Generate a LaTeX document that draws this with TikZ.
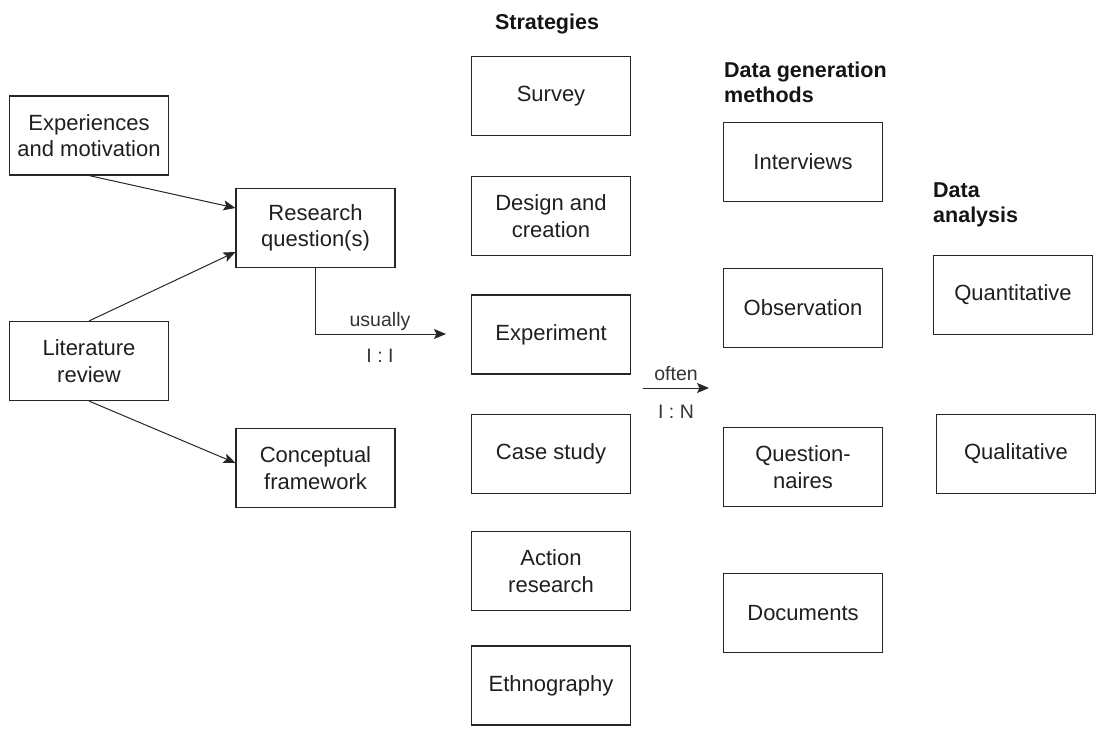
\documentclass[tikz,border=0pt]{standalone}
\usepackage{fontspec}
\setmainfont{Liberation Sans}
\usetikzlibrary{arrows.meta}
\begin{document}
\begin{tikzpicture}[x=1pt,y=-1pt,
  box/.style={draw=black!85, line width=1.1pt, minimum width=159pt, minimum height=79pt,
    inner sep=0pt, align=center, text=black!88, font=\fontsize{22}{26.5}\selectfont},
  title/.style={font=\fontsize{21.5}{25}\selectfont\bfseries, text=black!92, inner sep=0pt, align=left},
  lbl/.style={font=\fontsize{19.5}{22}\selectfont, text=black!80, inner sep=0pt},
  conn/.style={draw=black!85, line width=1pt, -{Stealth[length=12pt,width=10pt,inset=2.5pt]}}]
\useasboundingbox (0,0) rectangle (1097,731);

% left-hand inputs
\node[box] (exp) at (89,135.5) {Experiences\\and motivation};
\node[box] (rq)  at (315.5,228) {Research\\question(s)};
\node[box] (lit) at (89,361) {Literature\\review};
\node[box] (cf)  at (315.5,468) {Conceptual\\framework};

% strategies column
\node[title, anchor=center] (tstr) at (547,24) {Strategies};
\node[box] (survey) at (551,96)    {Survey};
\node[box] (design) at (551,216)   {Design and\\creation};
\node[box] (expm)   at (551,334.5) {Experiment};
\node[box] (case)   at (551,454)   {Case study};
\node[box] (action) at (551,571)   {Action\\research};
\node[box] (ethno)  at (551,685.5) {Ethnography};

% data generation methods column
\node[title, anchor=west] (tdg) at (724,82.5) {Data generation\\methods};
\node[box] (intv) at (803,162) {Interviews};
\node[box] (obs)  at (803,308) {Observation};
\node[box] (quest) at (803,467) {Question-\\naires};
\node[box] (docs) at (803,613) {Documents};

% data analysis column
\node[title, anchor=west] (tda) at (933,204.5) {Data\\analysis};
\node[box] (quant) at (1013,295) {Quantitative};
\node[box] (qual)  at (1016,454) {Qualitative};

% connectors (yshift is in page direction: positive moves up)
\draw[conn] (exp.south) -- ([yshift=20pt]rq.west);
\draw[conn] (lit.north) -- ([yshift=-24pt]rq.west);
\draw[conn] (lit.south) -- ([yshift=5pt]cf.west);

\coordinate (rqbend) at (315.5,334);
\coordinate (rqend) at (446,334);
\draw[conn] (rq.south) -- (rqbend) -- (rqend);
\node[lbl] (usually) at (380,321) {usually};
\node[lbl] (oneone) at (380,356) {I : I};

\coordinate (ofstart) at (643,388);
\coordinate (ofend) at (709,388);
\draw[conn] (ofstart) -- (ofend);
\node[lbl] (often) at (676,374) {often};
\node[lbl] (onen) at (676,412) {I : N};
\end{tikzpicture}
\end{document}
